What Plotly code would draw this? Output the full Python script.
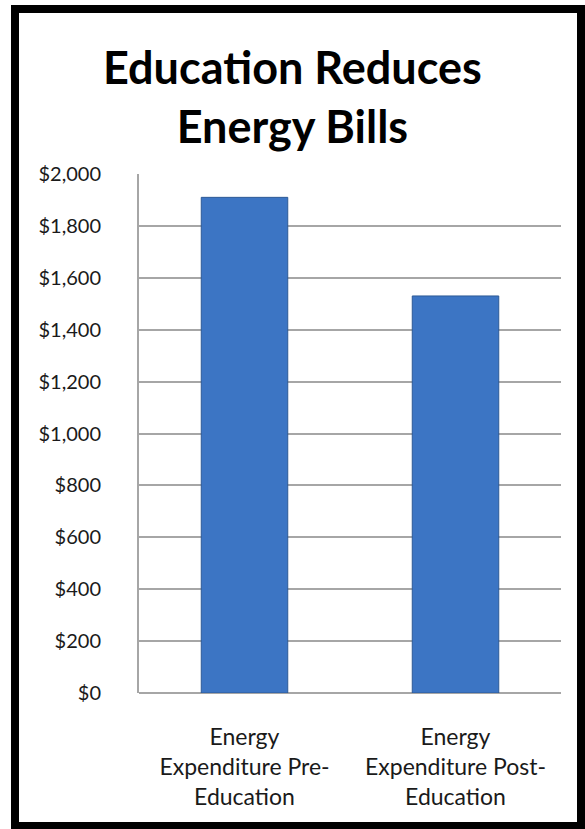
import plotly.graph_objects as go

# Annual energy spending before and after the education programme
categories = ["Energy Expenditure Pre-Education", "Energy Expenditure Post-Education"]
tick_labels = ["Energy<br>Expenditure Pre-<br>Education", "Energy<br>Expenditure Post-<br>Education"]
expenditure = [1910, 1530]
y_ticks = [0, 200, 400, 600, 800, 1000, 1200, 1400, 1600, 1800, 2000]
y_tick_labels = [f"${v:,}" for v in y_ticks]

W, H = 585, 829
ML, MR, MT, MB = 139, 24, 174, 136
PW, PH = W - ML - MR, H - MT - MB

FONT = "Lato, 'Open Sans', sans-serif"
GRID = "#a6a6a6"
TEXT = "#1a1a1a"

fig = go.Figure(
    go.Bar(
        x=categories,
        y=expenditure,
        marker=dict(color="#3c75c4", line=dict(color="#2d5a96", width=1)),
        hoverinfo="x+y",
    )
)


# helpers: page pixels -> paper coords (relative to the plot area)
def px_x(px):
    return (px - ML) / PW


def px_y(py):
    return (H - MB - py) / PH


# black frame around the whole chart
fig.add_shape(
    type="rect", xref="paper", yref="paper",
    x0=px_x(15), x1=px_x(581), y0=px_y(826), y1=px_y(9),
    line=dict(color="black", width=8), fillcolor="rgba(0,0,0,0)",
    layer="above",
)

# two-line chart title, centred on the page
fig.add_annotation(
    text="<b>Education Reduces<br>Energy Bills</b>",
    xref="paper", yref="paper",
    x=px_x(W / 2), y=px_y(97),
    xanchor="center", yanchor="middle",
    showarrow=False,
    font=dict(family=FONT, size=45, color="black"),
)

fig.update_layout(
    width=W, height=H,
    margin=dict(l=ML, r=MR, t=MT, b=MB),
    paper_bgcolor="white", plot_bgcolor="white",
    bargap=0.59,
    showlegend=False,
    font=dict(family=FONT, color=TEXT),
)

fig.update_xaxes(
    tickmode="array", tickvals=categories, ticktext=tick_labels,
    tickfont=dict(size=23, color=TEXT),
    ticks="", showgrid=False, showline=False,
    ticklabelstandoff=28,
    range=[-0.5, 1.5],
)

fig.update_yaxes(
    range=[0, 2000],
    tickmode="array", tickvals=y_ticks, ticktext=y_tick_labels,
    tickfont=dict(size=20, color=TEXT),
    showgrid=True, gridcolor=GRID, gridwidth=2,
    zeroline=True, zerolinecolor=GRID, zerolinewidth=2,
    showline=True, linecolor=GRID, linewidth=2,
    ticks="", ticklabelstandoff=32,
)

fig.write_html("out.html")
